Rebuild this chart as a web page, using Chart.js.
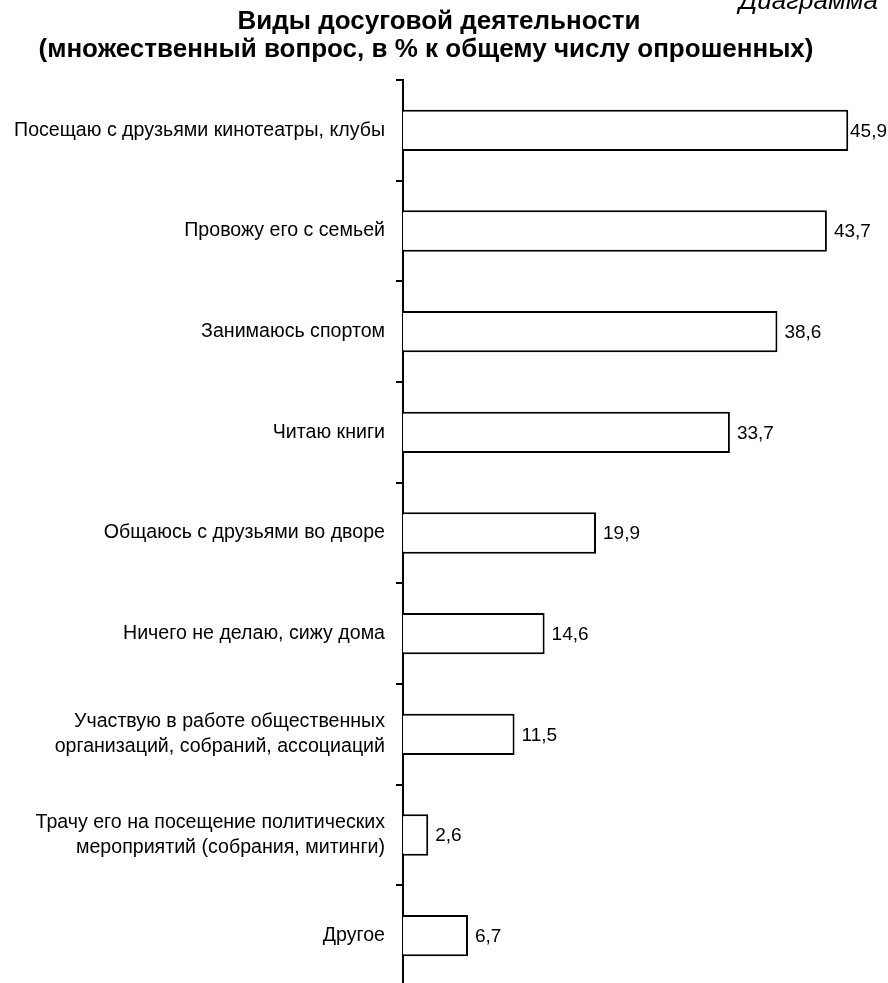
<!DOCTYPE html>
<html>
<head>
<meta charset="utf-8">
<script src="https://cdn.jsdelivr.net/npm/chart.js@4"></script>
<style>
  html, body { margin: 0; padding: 0; background: #fff; overflow: hidden; }
</style>
</head>
<body>
<canvas id="myChart" width="888" height="990"></canvas>
<script>
// данные диаграммы
let categories = [
    'Посещаю с друзьями кинотеатры, клубы',
    'Провожу его с семьей',
    'Занимаюсь спортом',
    'Читаю книги',
    'Общаюсь с друзьями во дворе',
    'Ничего не делаю, сижу дома',
    ['Участвую в работе общественных', 'организаций, собраний, ассоциаций'],
    ['Трачу его на посещение политических', 'мероприятий (собрания, митинги)'],
    'Другое'
];
let values = [45.9, 43.7, 38.6, 33.7, 19.9, 14.6, 11.5, 2.6, 6.7];
let titleLines = ['Виды досуговой деятельности', '(множественный вопрос, в % к общему числу опрошенных)'];
let cornerText = 'Диаграмма';

let ctx = document.getElementById('myChart').getContext('2d');
let myChart;

const FONT = '"Liberation Sans", Arial, sans-serif';

// заголовок и подпись в углу
const titlePlugin = {
    id: 'titleText',
    afterDraw(chart) {
        const c = chart.ctx;
        c.save();
        c.fillStyle = '#000';
        c.textBaseline = 'alphabetic';
        c.font = 'italic 26px ' + FONT;
        c.textAlign = 'right';
        c.fillText(cornerText, 878, 9);
        c.font = 'bold 26px ' + FONT;
        c.textAlign = 'center';
        c.fillText(titleLines[0], 439, 29);
        c.fillText(titleLines[1], 426, 57);
        c.restore();
    }
};

// подписи значений справа от столбиков
const valueLabels = {
    id: 'valueLabels',
    afterDatasetsDraw(chart) {
        const c = chart.ctx;
        const meta = chart.getDatasetMeta(0);
        c.save();
        c.font = '19px ' + FONT;
        c.fillStyle = '#000';
        c.textBaseline = 'middle';
        c.textAlign = 'left';
        meta.data.forEach((bar, i) => {
            const txt = values[i].toFixed(1).replace('.', ',');
            const w = c.measureText(txt).width;
            const x = Math.min(bar.x + 7, chart.width - w - 1);
            c.fillText(txt, x, bar.y + 1);
        });
        c.restore();
    }
};

DrawChart = () => {
    myChart = new Chart(ctx, {
        type: 'bar',
        data: {
            labels: categories,
            datasets: [{
                data: values,
                backgroundColor: '#ffffff',
                borderColor: '#000000',
                borderWidth: 2,
                categoryPercentage: 1,
                barPercentage: 0.41
            }]
        },
        options: {
            indexAxis: 'y',
            responsive: false,
            animation: false,
            layout: { padding: { top: 80, right: 0, bottom: 4, left: 0 } },
            plugins: {
                legend: { display: false },
                tooltip: { enabled: false }
            },
            scales: {
                x: {
                    display: false,
                    min: 0,
                    max: 50
                },
                y: {
                    afterFit(scale) {
                        scale.width = 403;
                        scale.paddingTop = 0;
                        scale.paddingBottom = 0;
                    },
                    border: { display: true, color: '#000', width: 2 },
                    grid: {
                        offset: true,
                        drawOnChartArea: false,
                        drawTicks: true,
                        tickLength: 7,
                        color: '#000',
                        lineWidth: 2
                    },
                    ticks: {
                        color: '#000',
                        padding: 11,
                        font: { family: FONT, size: 19.6, lineHeight: 1.3 },
                        autoSkip: false
                    }
                }
            }
        },
        plugins: [titlePlugin, valueLabels]
    });
}

DrawChart();
</script>
</body>
</html>
